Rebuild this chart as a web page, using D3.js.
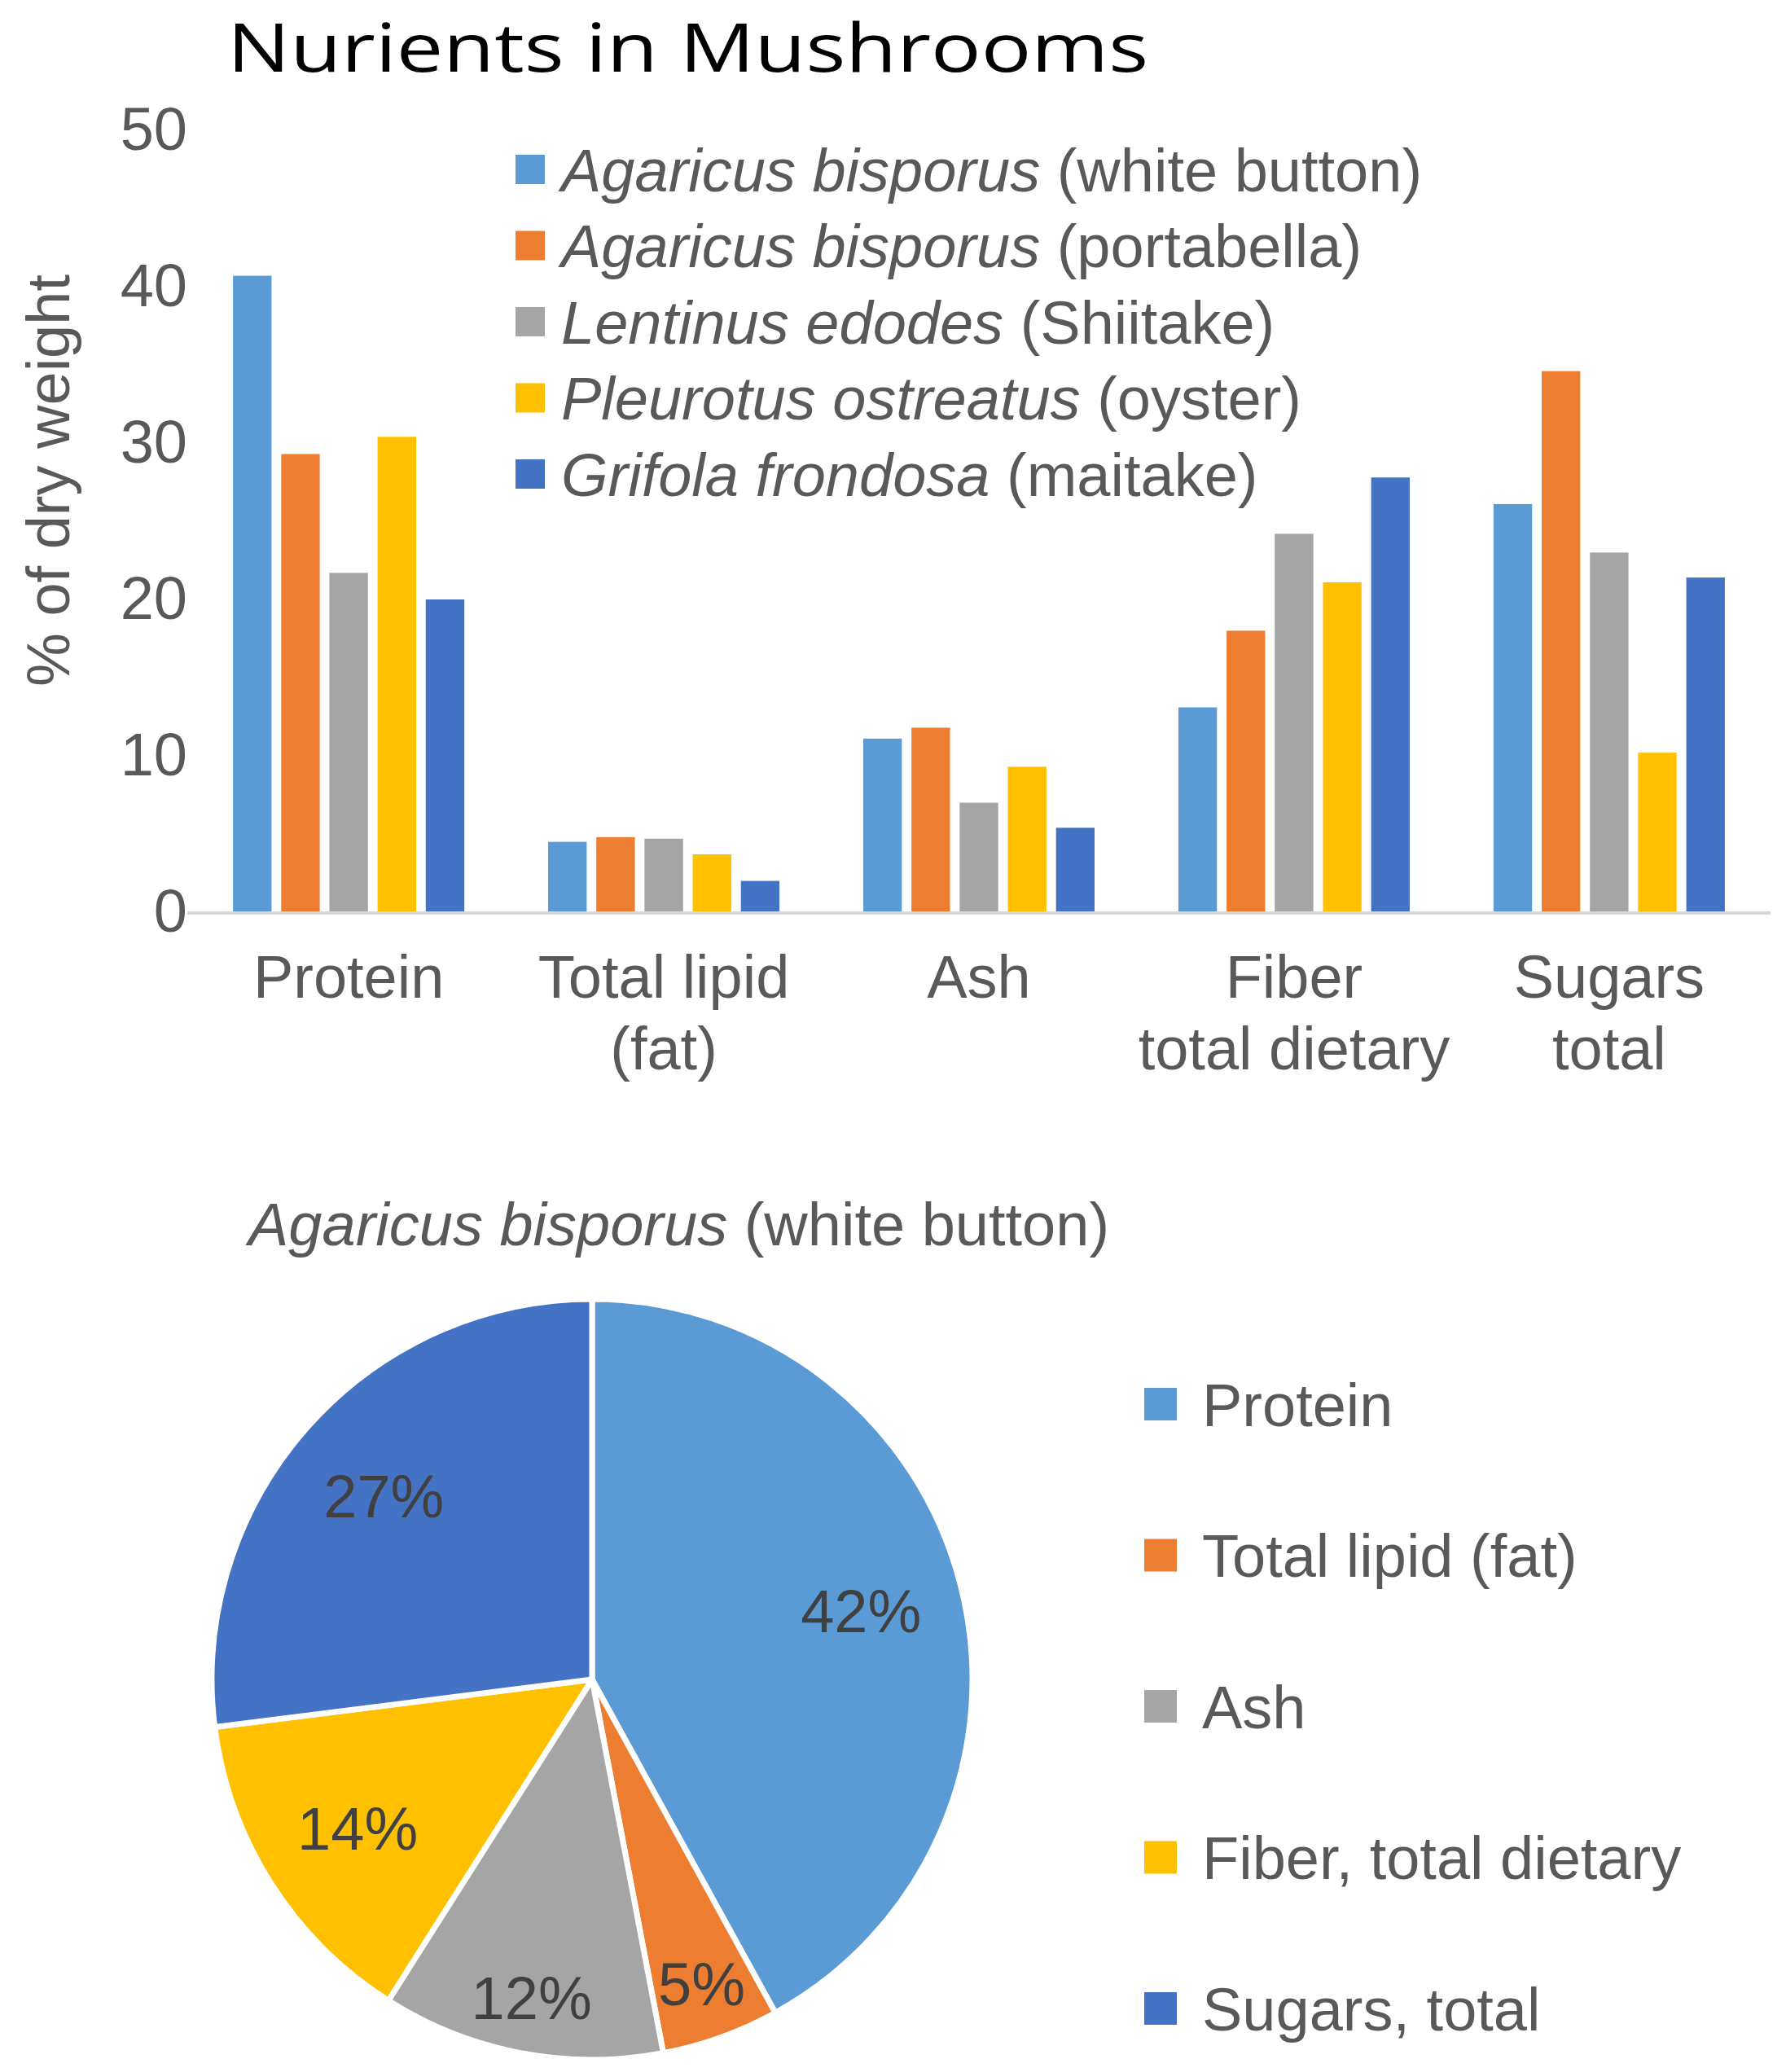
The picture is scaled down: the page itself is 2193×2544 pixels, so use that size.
<!DOCTYPE html>
<html>
<head>
<meta charset="utf-8">
<script src="https://cdn.jsdelivr.net/npm/d3@7"></script>
<style>
  body { margin: 0; background: #fff; }
  text { font-family: "Liberation Sans", Arial, sans-serif; }
</style>
</head>
<body>
<div id="chart"></div>
<script>
// data
var nutrients = ["Protein", "Total lipid (fat)", "Ash", "Fiber total dietary", "Sugars total"];
var nutrientLines = [["Protein"], ["Total lipid", "(fat)"], ["Ash"], ["Fiber", "total dietary"], ["Sugars", "total"]];
var speciesLatin = ["Agaricus bisporus", "Agaricus bisporus", "Lentinus edodes", "Pleurotus ostreatus", "Grifola frondosa"];
var speciesCommon = ["(white button)", "(portabella)", "(Shiitake)", "(oyster)", "(maitake)"];
var whiteButton = [40.7, 4.5, 11.1, 13.1, 26.1];
var portabella = [29.3, 4.8, 11.8, 18.0, 34.6];
var shiitake = [21.7, 4.7, 7.0, 24.2, 23.0];
var oyster = [30.4, 3.7, 9.3, 21.1, 10.2];
var maitake = [20.0, 2.0, 5.4, 27.8, 21.4];
var yTicks = [0, 10, 20, 30, 40, 50];
var pieLabels = ["Protein", "Total lipid (fat)", "Ash", "Fiber, total dietary", "Sugars, total"];
var pieShares = [42, 5, 12, 14, 27];

var colors = ["#5B9BD5", "#ED7D31", "#A5A5A5", "#FFC000", "#4472C4"];
var textGray = "#595959";
var fontSize = 74;

var svgWidth = 2193;
var svgHeight = 2544;

var svg = d3.select("#chart")
  .append("svg")
  .attr("width", svgWidth)
  .attr("height", svgHeight);

// title (the original font is wider, so stretch it to the same length)
svg.append("text")
  .attr("x", 279)
  .attr("y", 88)
  .attr("font-size", 82)
  .style("font-family", "'Open Sans', 'Noto Sans', sans-serif")
  .attr("font-weight", 500)
  .attr("textLength", 1131)
  .attr("lengthAdjust", "spacingAndGlyphs")
  .attr("fill", "#000")
  .text("Nurients in Mushrooms");

// bar chart
var series = [whiteButton, portabella, shiitake, oyster, maitake];
var barData = nutrients.map(function(n, i) {
  return { nutrient: n, lines: nutrientLines[i], values: series.map(function(s) { return s[i]; }) };
});

var plot = { left: 230, right: 2174, top: 160, bottom: 1120 };

var x0 = d3.scaleBand()
  .domain(nutrients)
  .range([plot.left, plot.right])
  .paddingInner(0.266)
  .paddingOuter(0.145);

var x1 = d3.scaleBand()
  .domain(d3.range(series.length))
  .range([0, x0.bandwidth()])
  .paddingInner(0.2);

var y = d3.scaleLinear()
  .domain([0, 50])
  .range([plot.bottom, plot.top]);

var groups = svg.append("g").selectAll("g")
  .data(barData)
  .enter()
  .append("g")
  .attr("transform", d => `translate(${x0(d.nutrient)},0)`);

groups.selectAll("rect")
  .data(d => d.values)
  .enter()
  .append("rect")
  .attr("x", (d, i) => x1(i))
  .attr("y", d => y(d))
  .attr("width", x1.bandwidth())
  .attr("height", d => y(0) - y(d))
  .attr("fill", (d, i) => colors[i]);

// baseline
svg.append("line")
  .attr("x1", plot.left)
  .attr("x2", plot.right)
  .attr("y1", y(0) + 1)
  .attr("y2", y(0) + 1)
  .attr("stroke", "#D9D9D9")
  .attr("stroke-width", 4);

// y axis (no line, labels only)
var leftAxis = d3.axisLeft(y).tickValues(yTicks).tickSize(0).tickPadding(0);
var yAxis = svg.append("g")
  .attr("transform", `translate(${plot.left},0)`)
  .call(leftAxis);
yAxis.select(".domain").remove();
yAxis.selectAll("text")
  .attr("font-size", fontSize)
  .attr("fill", textGray)
  .style("font-family", "'Liberation Sans', Arial, sans-serif");

svg.append("text")
  .attr("transform", `translate(59,590)rotate(-90)`)
  .attr("text-anchor", "middle")
  .attr("dy", "0.35em")
  .attr("font-size", fontSize)
  .attr("fill", textGray)
  .text("% of dry weight");

// category labels
var catLabels = svg.append("g").selectAll("text")
  .data(barData)
  .enter()
  .append("text")
  .attr("text-anchor", "middle")
  .attr("font-size", fontSize)
  .attr("fill", textGray);
catLabels.selectAll("tspan")
  .data(d => d.lines.map(l => ({ line: l, x: x0(d.nutrient) + x0.bandwidth() / 2 })))
  .enter()
  .append("tspan")
  .attr("x", d => d.x)
  .attr("y", (d, i) => 1225 + i * 88)
  .text(d => d.line);

// bar legend
var legend = svg.append("g").selectAll("g")
  .data(speciesLatin)
  .enter()
  .append("g")
  .attr("transform", (d, i) => `translate(633,${208 + i * 93.5})`);
legend.append("rect")
  .attr("x", 0)
  .attr("y", -18)
  .attr("width", 36)
  .attr("height", 36)
  .attr("fill", (d, i) => colors[i]);
var legendText = legend.append("text")
  .attr("x", 56)
  .attr("dy", "0.36em")
  .attr("font-size", fontSize)
  .attr("fill", textGray);
legendText.append("tspan").attr("font-style", "italic").text(d => d);
legendText.append("tspan").text((d, i) => " " + speciesCommon[i]);

// pie chart
var sub = svg.append("text")
  .attr("x", 305)
  .attr("y", 1529)
  .attr("font-size", fontSize)
  .attr("fill", textGray);
sub.append("tspan").attr("font-style", "italic").text(speciesLatin[0]);
sub.append("tspan").text(" " + speciesCommon[0]);

var radius = 467;
var pieGroup = svg.append("g")
  .attr("transform", "translate(727,2062)");

var pie = d3.pie().sort(null).value(d => d);
var arcs = pie(pieShares);
var arc = d3.arc().innerRadius(0).outerRadius(radius);

pieGroup.selectAll("path")
  .data(arcs)
  .enter()
  .append("path")
  .attr("d", arc)
  .attr("fill", (d, i) => colors[i])
  .attr("stroke", "#fff")
  .attr("stroke-width", 7)
  .attr("stroke-linejoin", "round");

pieGroup.selectAll("text")
  .data(arcs)
  .enter()
  .append("text")
  .attr("transform", function(d) {
    var r = d.data < 13 ? radius * 0.85 : radius * 0.73;
    var c = d3.arc().innerRadius(r).outerRadius(r).centroid(d);
    return `translate(${c[0]},${c[1]})`;
  })
  .attr("text-anchor", "middle")
  .attr("dy", "0.36em")
  .attr("font-size", fontSize)
  .attr("fill", "#404040")
  .text(d => d.data + "%");

// pie legend
var pieLegend = svg.append("g").selectAll("g")
  .data(pieLabels)
  .enter()
  .append("g")
  .attr("transform", (d, i) => `translate(1405,${1724 + i * 185.5})`);
pieLegend.append("rect")
  .attr("x", 0)
  .attr("y", -20)
  .attr("width", 40)
  .attr("height", 40)
  .attr("fill", (d, i) => colors[i]);
pieLegend.append("text")
  .attr("x", 71)
  .attr("dy", "0.36em")
  .attr("font-size", fontSize)
  .attr("fill", textGray)
  .text(d => d);
</script>
</body>
</html>
